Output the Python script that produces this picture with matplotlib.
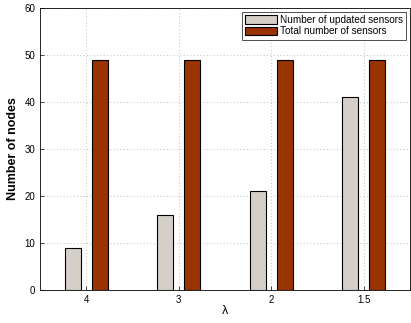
import matplotlib
matplotlib.use("Agg")
import matplotlib.pyplot as plt
import numpy as np

plt.rcParams['font.family'] = ['Liberation Sans', 'DejaVu Sans']

lambdas = ["4", "3", "2", "1.5"]
updated = [9, 16, 21, 41]
total = [49, 49, 49, 49]

fig = plt.figure(figsize=(4.11, 3.23), dpi=100)
ax = fig.add_axes([40 / 411, 1 - 290 / 323, 370 / 411, 282 / 323])

x = np.arange(1, len(lambdas) + 1)
w = 0.175
ax.bar(x - 0.145, updated, w, color="#d4d0c8", edgecolor="black", linewidth=0.8,
       label="Number of updated sensors", zorder=3)
ax.bar(x + 0.145, total, w, color="#993300", edgecolor="black", linewidth=0.8,
       label="Total number of sensors", zorder=3)

ax.set_xlim(0.5, 4.5)
ax.set_ylim(0, 60)
ax.set_xticks(x)
ax.set_xticklabels(lambdas)
ax.set_yticks(range(0, 61, 10))
ax.tick_params(direction="in", labelsize=7, length=3, width=0.5)
ax.grid(True, linestyle=(0, (1, 3)), color="#aaaaaa", linewidth=0.6, zorder=0)
for s in ax.spines.values():
    s.set_linewidth(0.6)

ax.set_xlabel("λ", fontsize=9, labelpad=0)
ax.set_ylabel("Number of nodes", fontsize=9, fontweight="bold")

leg = ax.legend(loc="upper right", fontsize=7.2, frameon=True, fancybox=False,
                edgecolor="black", borderpad=0.3, handlelength=3.2,
                handleheight=0.9, handletextpad=0.3, labelspacing=0.15,
                borderaxespad=0.4)
leg.get_frame().set_linewidth(0.6)

fig.savefig("out.png", dpi=100)
